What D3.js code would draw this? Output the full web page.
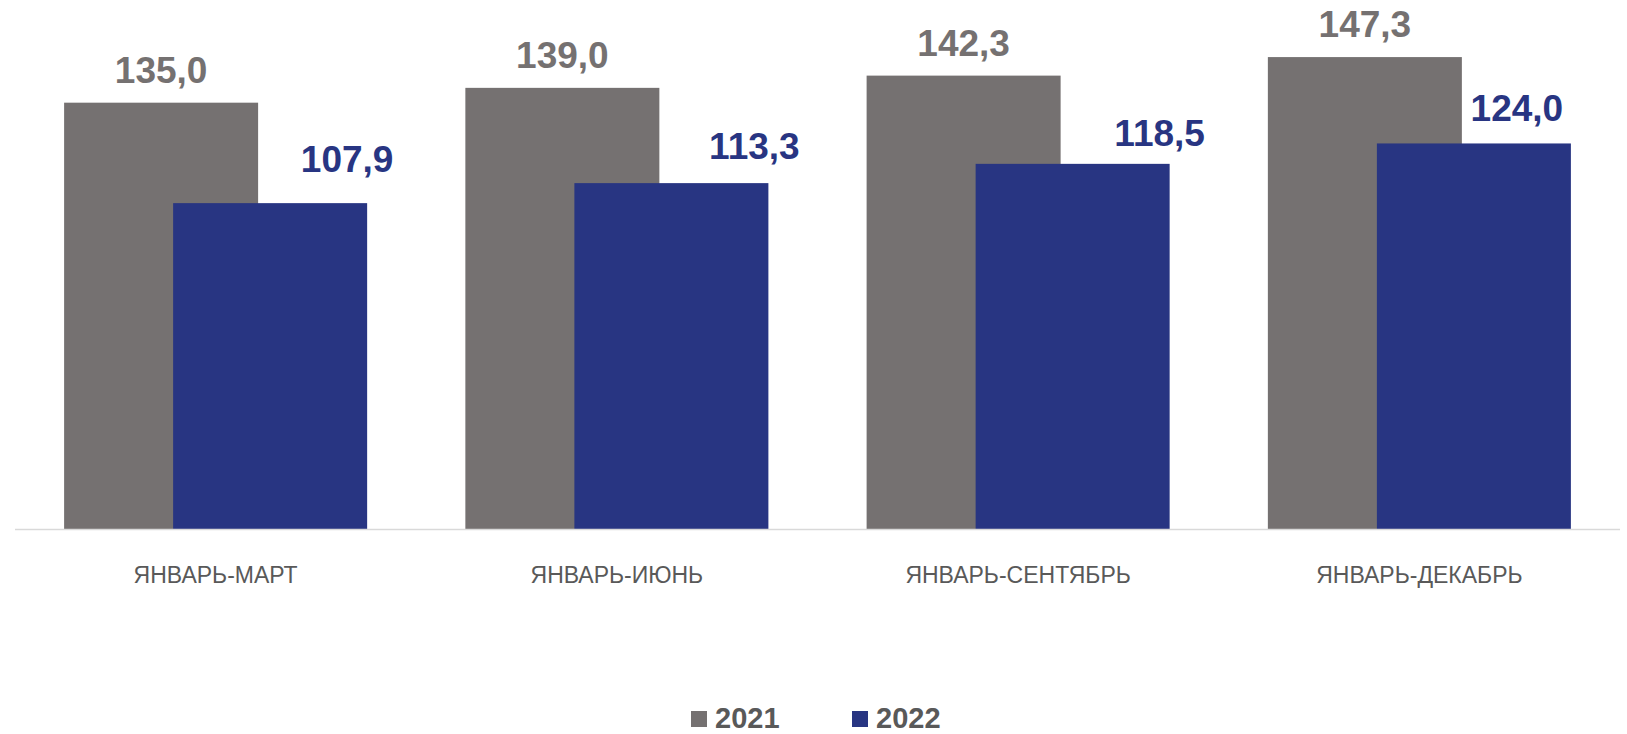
<!DOCTYPE html>
<html>
<head>
<meta charset="utf-8">
<script src="https://cdn.jsdelivr.net/npm/d3@7"></script>
<style>
  body { margin: 0; background: #fff; }
  svg { display: block; font-family: "Liberation Sans", Arial, sans-serif; }
</style>
</head>
<body>
<div id="chart"></div>
<script>
// data
const categories = ["ЯНВАРЬ-МАРТ", "ЯНВАРЬ-ИЮНЬ", "ЯНВАРЬ-СЕНТЯБРЬ", "ЯНВАРЬ-ДЕКАБРЬ"];
const years = ["2021", "2022"];
const values2021 = [135.0, 139.0, 142.3, 147.3];
const values2022 = [107.9, 113.3, 118.5, 124.0];

const colors = {"2021": "#757171", "2022": "#283582"};
// hand-moved label nudges for the 2022 series (dx, gap above bar)
const nudge2022 = [[77, 31], [83, 24], [87, 18], [43, 22]];

const width = 1627, height = 734;

const svg = d3.select("#chart")
  .append("svg")
  .attr("width", width)
  .attr("height", height);

const x = d3.scaleBand()
  .domain(categories)
  .range([15, 1620])
  .paddingInner(0)
  .paddingOuter(0);

const y = d3.scaleLinear()
  .domain([20, 160])
  .range([529, 10]);

const band = x.bandwidth();
const barW = band * 0.4835;          // bar width
const shift = barW * 0.562;          // second series starts here (overlap)
const groupW = barW + shift;
const pad = (band - groupW) / 2;

const series = years.map((yr, i) => ({
  year: yr,
  values: i == 0 ? values2021 : values2022,
  idx: i
}));

// bars
series.forEach(s => {
  svg.append("g")
    .selectAll("rect")
    .data(s.values)
    .join("rect")
    .attr("x", (d, i) => x(categories[i]) + pad + s.idx * shift)
    .attr("y", d => y(d))
    .attr("width", barW)
    .attr("height", d => y.range()[0] - y(d))
    .attr("fill", colors[s.year]);
});

// axis line
svg.append("line")
  .attr("x1", x.range()[0])
  .attr("x2", x.range()[1])
  .attr("y1", y.range()[0] + 0.5)
  .attr("y2", y.range()[0] + 0.5)
  .attr("stroke", "#d9d9d9")
  .attr("stroke-width", 1.5);

// category labels
svg.append("g")
  .selectAll("text")
  .data(categories)
  .join("text")
  .attr("x", d => x(d) + band / 2)
  .attr("y", 583)
  .attr("text-anchor", "middle")
  .style("font-size", "23px")
  .style("fill", "#595959")
  .text(d => d);

const fmt = v => v.toFixed(1).replace(".", ",");

// value labels
svg.append("g")
  .selectAll("text")
  .data(values2021)
  .join("text")
  .attr("x", (d, i) => x(categories[i]) + pad + barW / 2)
  .attr("y", d => y(d) - 20)
  .attr("text-anchor", "middle")
  .style("font-size", "37px")
  .style("font-weight", "bold")
  .style("fill", colors["2021"])
  .text(fmt);

svg.append("g")
  .selectAll("text")
  .data(values2022)
  .join("text")
  .attr("x", (d, i) => x(categories[i]) + pad + shift + barW / 2 + nudge2022[i][0])
  .attr("y", (d, i) => y(d) - nudge2022[i][1])
  .attr("text-anchor", "middle")
  .style("font-size", "37px")
  .style("font-weight", "bold")
  .style("fill", colors["2022"])
  .text(fmt);

// legend
const legend = svg.append("g")
  .selectAll("g")
  .data(years)
  .join("g")
  .attr("transform", (d, i) => `translate(${691 + i * 161}, 711)`);

legend.append("rect")
  .attr("width", 16)
  .attr("height", 16)
  .attr("fill", d => colors[d]);

legend.append("text")
  .attr("x", 24)
  .attr("y", 17)
  .style("font-size", "29px")
  .style("font-weight", "bold")
  .style("fill", "#595959")
  .text(d => d);
</script>
</body>
</html>
